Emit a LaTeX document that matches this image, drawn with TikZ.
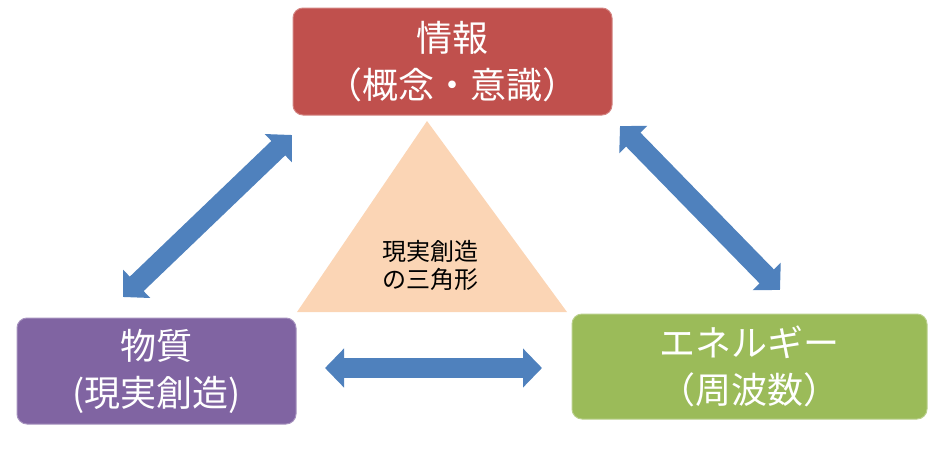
\documentclass[tikz,border=0pt]{standalone}
\usepackage{fontspec}
\newfontfamily\jp{Noto Sans CJK JP}
\usetikzlibrary{arrows.meta}
\definecolor{cred}{HTML}{C0504D}
\definecolor{cpurple}{HTML}{8064A2}
\definecolor{cgreen}{HTML}{9BBB59}
\definecolor{cblue}{HTML}{4F81BD}
\definecolor{corange}{HTML}{FBD5B5}
\tikzset{
  box/.style={rounded corners=10pt, align=center, text=white, inner sep=0pt,
    font=\jp\fontsize{36}{47}\selectfont, line width=1pt},
  bigarrow/.style={cblue, line width=20pt,
    {Triangle[length=19pt,width=38pt]}-{Triangle[length=19pt,width=38pt]}},
  tritext/.style={align=center, font=\jp\fontsize{24}{28}\selectfont, text=black}
}
\begin{document}
\begin{tikzpicture}[x=1pt,y=-1pt]
\useasboundingbox (0,0) rectangle (940,448);
% triangle
\coordinate (tA) at (427,121);
\coordinate (tB) at (297,312);
\coordinate (tC) at (567,312);
\fill[corange] (tA) -- (tB) -- (tC) -- cycle;
\node[tritext] (tri) at (430,265) {現実創造\\の三角形};
% boxes
\node[box, fill=cred, draw=cred!70!white, minimum width=319pt, minimum height=107pt] (info) at (452.5,61.5) {情報\\（概念・意識）};
\node[box, fill=cpurple, draw=cpurple!70!white, minimum width=279pt, minimum height=106pt] (matter) at (156.5,371) {物質\\(現実創造)};
\node[box, fill=cgreen, draw=cgreen!70!white, minimum width=355pt, minimum height=105pt] (energy) at (749.5,366.5) {エネルギー\\（周波数）};
% arrows
\coordinate (la1) at (292,135);
\coordinate (la2) at (123,297);
\coordinate (ra1) at (620,126);
\coordinate (ra2) at (780,290);
\coordinate (ha1) at (325,368);
\coordinate (ha2) at (542,368);
\draw[bigarrow] (la1) -- (la2);
\draw[bigarrow] (ra1) -- (ra2);
\draw[bigarrow] (ha1) -- (ha2);
\end{tikzpicture}
\end{document}
